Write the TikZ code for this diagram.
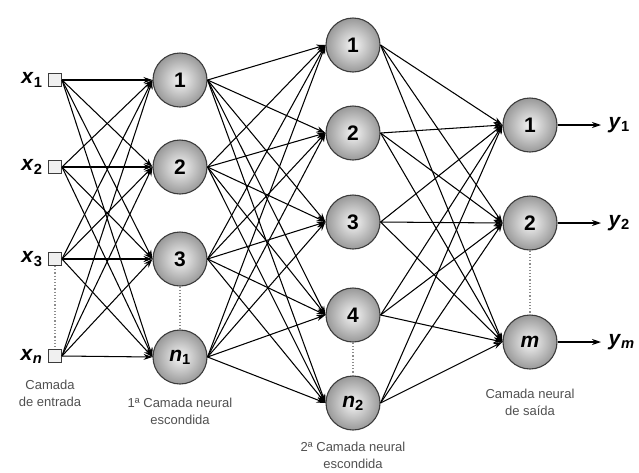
\documentclass[tikz,border=0pt]{standalone}
\usepackage{fontspec}
\setmainfont{Liberation Sans}
\usetikzlibrary{arrows.meta, positioning}
\definecolor{labelgray}{RGB}{80,80,80}
\definecolor{rimgray}{RGB}{60,60,60}

\begin{document}
\begin{tikzpicture}[x=1pt,y=-1pt,
  neuron/.style={circle, draw=rimgray, line width=1.1pt, minimum size=54pt, inner sep=0pt,
    inner color=black!4, outer color=black!40, font=\bfseries\fontsize{21}{21}\selectfont},
  inbox/.style={draw=rimgray, fill=black!6, minimum size=13pt, inner sep=0pt, line width=1pt},
  conn/.style={-{Stealth[length=9pt,width=6pt]}, line width=1.05pt},
  dots/.style={dotted, line width=1.2pt, black!45},
  varlabel/.style={font=\bfseries\fontsize{21}{21}\selectfont},
  caption/.style={align=center, text=labelgray, font=\fontsize{13}{17}\selectfont}]
  \useasboundingbox (0,0) rectangle (639,472);

  % Camada de entrada
  \foreach \i/\y/\t in {1/80/1, 2/167/2, 3/259/3, 4/356/\textit{n}} {
    \node[inbox] (X\i) at (55,\y) {};
    \node[varlabel, left=2pt of X\i] (lbX\i) {\textit{x}\textsubscript{\t}};
  }

  % 1a camada escondida
  \foreach \i/\y/\t in {1/80/1, 2/167/2, 3/259/3, 4/357/\textit{n}\textsubscript{1}}
    \node[neuron] (H\i) at (180,\y) {\t};

  % 2a camada escondida
  \foreach \i/\y/\t in {1/45/1, 2/133/2, 3/222/3, 4/315/4, 5/403/\textit{n}\textsubscript{2}}
    \node[neuron] (K\i) at (353,\y) {\t};

  % Camada de saida
  \foreach \i/\y/\t/\s in {1/125/1/1, 2/223/2/2, 3/342/\textit{m}/\textit{m}} {
    \node[neuron] (O\i) at (530,\y) {\t};
    \coordinate (E\i) at (601,\y);
    \node[varlabel, right=4pt of E\i] (lbY\i) {\textit{y}\textsubscript{\s}};
  }

  % Ligacoes
  \foreach \i in {1,...,4}
    \foreach \j in {1,...,4}
      \draw[conn] (X\i.east) -- (H\j.west);
  \foreach \i in {1,...,4}
    \foreach \j in {1,...,5}
      \draw[conn] (H\i.east) -- (K\j.west);
  \foreach \i in {1,...,5}
    \foreach \j in {1,...,3}
      \draw[conn] (K\i.east) -- (O\j.west);
  \foreach \j in {1,...,3}
    \draw[conn] (O\j.east) -- (E\j);

  % Reticencias
  \draw[dots] (X3) -- (X4);
  \draw[dots] (H3) -- (H4);
  \draw[dots] (K4) -- (K5);
  \draw[dots] (O2) -- (O3);

  % Legendas
  \node[caption] (capIn) at (50,393) {Camada\\de entrada};
  \node[caption] (capH1) at (180,411) {1ª Camada neural\\escondida};
  \node[caption] (capH2) at (353,455) {2ª Camada neural\\escondida};
  \node[caption] (capOut) at (530,402) {Camada neural\\de saída};
\end{tikzpicture}
\end{document}
